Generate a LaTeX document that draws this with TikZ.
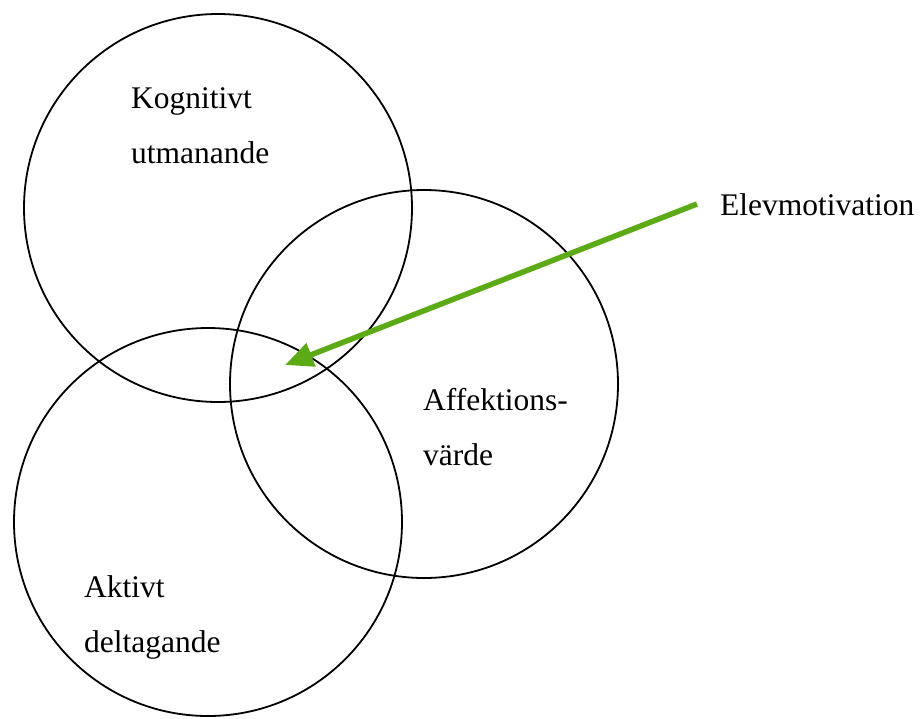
\documentclass[tikz,border=0pt]{standalone}
\usepackage{fontspec}
\setmainfont{Liberation Serif}
\usetikzlibrary{arrows.meta}
\definecolor{arrowgreen}{RGB}{92,170,22}
\begin{document}
\begin{tikzpicture}[x=1pt,y=-1pt,
  ring/.style={draw=black,line width=1.8pt},
  lbl/.style={anchor=base west,inner sep=0pt,align=left,font=\fontsize{31.5}{55}\selectfont},
  pointer/.style={draw=arrowgreen,line width=5.5pt,-{Triangle[length=28pt,width=24pt]}}]
\useasboundingbox (0,0) rectangle (920,718);
\draw[ring] (218,208) circle[radius=194];
\draw[ring] (424,384) circle[radius=194];
\draw[ring] (208,522) circle[radius=194];
\node[lbl] (kog) at (131,163) {Kognitivt\\utmanande};
\node[lbl] (aff) at (423,465) {Affektions-\\värde};
\node[lbl] (akt) at (84,652) {Aktivt\\deltagande};
\node[lbl] (elev) at (720,215) {Elevmotivation};
\coordinate (from) at (697,204);
\coordinate (to) at (285,365);
\draw[pointer] (from) -- (to);
\end{tikzpicture}
\end{document}
